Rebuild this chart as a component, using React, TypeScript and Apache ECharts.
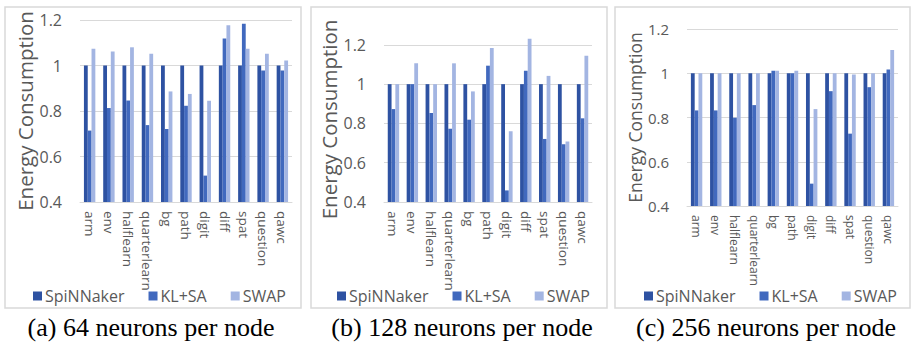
import React, { useEffect, useRef } from "react";
import * as echarts from "echarts";

const categories = ["arm", "env", "halflearn", "quarterlearn", "bg", "path", "digit", "diff", "spat", "question", "qawc"];
const seriesNames = ["SpiNNaker", "KL+SA", "SWAP"];
const yMin = 0.4;
const yInterval = 0.2;
const yMaxA = 1.2;
const yMaxB = 1.24;
const yMaxC = 1.2;

const aSpi = [1, 1, 1, 1, 1, 1, 1, 1, 1, 1, 1];
const aKl = [0.714, 0.813, 0.846, 0.738, 0.721, 0.823, 0.516, 1.119, 1.183, 0.978, 0.978];
const aSwap = [1.074, 1.062, 1.08, 1.052, 0.886, 0.875, 0.845, 1.177, 1.074, 1.052, 1.022];

const bSpi = [1, 1, 1, 1, 1, 1, 1, 1, 1, 1, 1];
const bKl = [0.873, 1.0, 0.853, 0.773, 0.819, 1.094, 0.459, 1.068, 0.721, 0.694, 0.826];
const bSwap = [1.0, 1.106, 1.0, 1.106, 0.963, 1.184, 0.76, 1.231, 1.042, 0.708, 1.145];

const cSpi = [1, 1, 1, 1, 1, 1, 1, 1, 1, 1, 1];
const cKl = [0.832, 0.832, 0.799, 0.856, 1.011, 1.0, 0.501, 0.919, 0.727, 0.937, 1.017];
const cSwap = [1.0, 1.0, 1.0, 1.0, 1.011, 1.011, 0.838, 1.0, 0.994, 1.0, 1.105];

const captions = ["(a) 64 neurons per node", "(b) 128 neurons per node", "(c) 256 neurons per node"];

const colors = ["#2E52A2", "#4169BE", "#A3B5E2"];
const FONT = "'Open Sans', 'Noto Sans', sans-serif";
const GRAY = "#595959";

const panels = [
  { data: [aSpi, aKl, aSwap], max: yMaxA, grid: { left: 80, top: 20, width: 212, height: 182 }, box: [5, 7, 296, 301], legendLeft: 28, capX: 151, tickSize: 16, nameSize: 20.5, catSize: 13.5, nameGap: 41 },
  { data: [bSpi, bKl, bSwap], max: yMaxB, grid: { left: 384, top: 37, width: 208, height: 165 }, box: [311, 7, 296, 301], legendLeft: 332, capX: 462, tickSize: 16, nameSize: 20.5, catSize: 13.5, nameGap: 41 },
  { data: [cSpi, cKl, cSwap], max: yMaxC, grid: { left: 687, top: 29, width: 211, height: 177 }, box: [615, 7, 295, 301], legendLeft: 639, capX: 766, tickSize: 15, nameSize: 17.5, catSize: 12, nameGap: 43 },
];

export default function App() {
  const ref = useRef<HTMLDivElement>(null);
  useEffect(() => {
    document.body.style.margin = "0";
    const chart = echarts.init(ref.current!, null, { renderer: "svg" });
    const grid: any[] = [];
    const xAxis: any[] = [];
    const yAxis: any[] = [];
    const legend: any[] = [];
    const series: any[] = [];
    const graphic: any[] = [];
    panels.forEach((p, i) => {
      grid.push({ ...p.grid, containLabel: false, outerBoundsMode: "none" });
      xAxis.push({
        type: "category",
        gridIndex: i,
        data: categories,
        axisLine: { show: true, lineStyle: { color: "#d9d9d9", width: 1 } },
        axisTick: { show: false },
        axisLabel: { rotate: -90, interval: 0, color: GRAY, fontSize: p.catSize, fontFamily: FONT, margin: 9, overflow: "none", width: 200, hideOverlap: false },
      });
      yAxis.push({
        type: "value",
        gridIndex: i,
        min: yMin,
        max: p.max,
        interval: yInterval,
        name: "Energy Consumption",
        nameLocation: "middle",
        nameGap: p.nameGap,
        nameTextStyle: { color: GRAY, fontSize: p.nameSize, fontFamily: FONT },
        axisLine: { show: false },
        axisTick: { show: false },
        axisLabel: { color: GRAY, fontSize: p.tickSize, fontFamily: FONT, margin: 18, showMaxLabel: p.max === 1.2 },
        splitLine: { show: true, showMaxLine: p.max === 1.2, lineStyle: { color: "#d9d9d9", width: 1 } },
      });
      legend.push({
        left: p.legendLeft,
        top: 283,
        icon: "rect",
        itemWidth: 9,
        itemHeight: 9,
        itemGap: 24,
        data: seriesNames,
        textStyle: { color: GRAY, fontSize: 16, fontFamily: FONT, padding: [0, 0, 0, -2] },
      });
      seriesNames.forEach((name, s) => {
        series.push({
          type: "bar",
          name,
          xAxisIndex: i,
          yAxisIndex: i,
          data: p.data[s],
          barWidth: 3.8,
          barGap: "0%",
          itemStyle: { color: colors[s] },
        });
      });
      graphic.push({
        type: "rect",
        shape: { x: p.box[0], y: p.box[1], width: p.box[2], height: p.box[3] },
        style: { fill: "none", stroke: "#d9d9d9", lineWidth: 1.5 },
        silent: true,
      });
      graphic.push({
        type: "text",
        x: p.capX,
        y: 327,
        style: {
          text: captions[i],
          fill: "#000",
          font: "26px 'Liberation Serif', 'Times New Roman', serif",
          textAlign: "center",
          textVerticalAlign: "middle",
        },
      });
    });
    chart.setOption({
      animation: false,
      backgroundColor: "#fff",
      grid,
      xAxis,
      yAxis,
      legend,
      series,
      graphic,
    });
    return () => chart.dispose();
  }, []);
  return <div ref={ref} style={{ width: 912, height: 343 }} />;
}
